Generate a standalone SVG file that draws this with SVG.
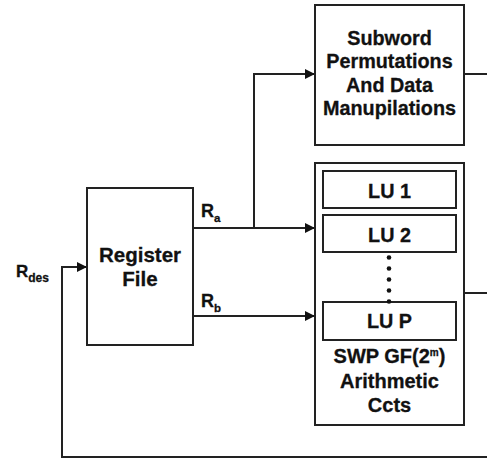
<svg xmlns="http://www.w3.org/2000/svg" width="487" height="459" viewBox="0 0 487 459">
  <defs>
    <marker id="arrow" viewBox="0 0 10 10" refX="10" refY="5" markerWidth="10" markerHeight="10" markerUnits="userSpaceOnUse" orient="auto">
      <path d="M0,0 L10,5 L0,10 Z" fill="#111"/>
    </marker>
    <style>
      .box { fill: #fff; stroke: #222; stroke-width: 2; }
      .wire { fill: none; stroke: #222; stroke-width: 2; }
      .lbl { font-family: "Liberation Sans", Arial, sans-serif; font-weight: bold; fill: #111; stroke: #111; stroke-width: 0.3; text-anchor: middle; }
      .pin { font-family: "Liberation Sans", Arial, sans-serif; font-weight: bold; fill: #111; stroke: #111; stroke-width: 0.3; }
    </style>
  </defs>
  <rect width="487" height="459" fill="#fff"/>

  <g id="connectors">
    <path class="wire" d="M193,228 H315" marker-end="url(#arrow)"/>
    <path class="wire" d="M254,228 V74 H315" marker-end="url(#arrow)"/>
    <path class="wire" d="M193,316 H315" marker-end="url(#arrow)"/>
    <path class="wire" d="M464,74 H487"/>
    <path class="wire" d="M464,293 H487"/>
    <path class="wire" d="M487,457 H62 V267 H87" marker-end="url(#arrow)"/>
  </g>

  <g id="register-file">
    <rect class="box" x="87" y="188" width="106" height="157"/>
    <text class="lbl" x="140" y="262" font-size="20.5">Register</text>
    <text class="lbl" x="140" y="286" font-size="20.5">File</text>
  </g>

  <g id="subword">
    <rect class="box" x="315" y="5" width="149" height="140"/>
    <text class="lbl" x="389.5" y="45" font-size="19.8">Subword</text>
    <text class="lbl" x="389.5" y="68" font-size="19.8">Permutations</text>
    <text class="lbl" x="389.5" y="92" font-size="19.8">And Data</text>
    <text class="lbl" x="389.5" y="115" font-size="19.8">Manupilations</text>
  </g>

  <g id="swp-arith">
    <rect class="box" x="315" y="163" width="149" height="262"/>
    <text class="lbl" x="389.5" y="363" font-size="20">SWP GF(2<tspan font-size="10" dy="-7">m</tspan><tspan dy="7">)</tspan></text>
    <text class="lbl" x="389.5" y="388" font-size="20">Arithmetic</text>
    <text class="lbl" x="389.5" y="412" font-size="20">Ccts</text>
  </g>

  <g id="lu-1">
    <rect class="box" x="323" y="171" width="133" height="37"/>
    <text class="lbl" x="389.5" y="197.5" font-size="19.8">LU 1</text>
  </g>
  <g id="lu-2">
    <rect class="box" x="323" y="215" width="133" height="37"/>
    <text class="lbl" x="389.5" y="241.5" font-size="19.8">LU 2</text>
  </g>
  <g id="lu-p">
    <rect class="box" x="323" y="302" width="133" height="38"/>
    <text class="lbl" x="389.5" y="328" font-size="19.8">LU P</text>
  </g>
  <g id="ellipsis" fill="#111">
    <circle cx="389" cy="257.5" r="2.3"/>
    <circle cx="389" cy="268.5" r="2.3"/>
    <circle cx="389" cy="279.5" r="2.3"/>
    <circle cx="389" cy="290.5" r="2.3"/>
    <circle cx="389" cy="301.5" r="2.3"/>
  </g>

  <g id="labels">
    <text class="pin" x="201" y="217" font-size="18">R<tspan font-size="11.5" dy="5">a</tspan></text>
    <text class="pin" x="201" y="307" font-size="18">R<tspan font-size="11.5" dy="5">b</tspan></text>
    <text class="pin" x="16" y="277" font-size="17">R<tspan font-size="12" dy="5">des</tspan></text>
  </g>
</svg>
